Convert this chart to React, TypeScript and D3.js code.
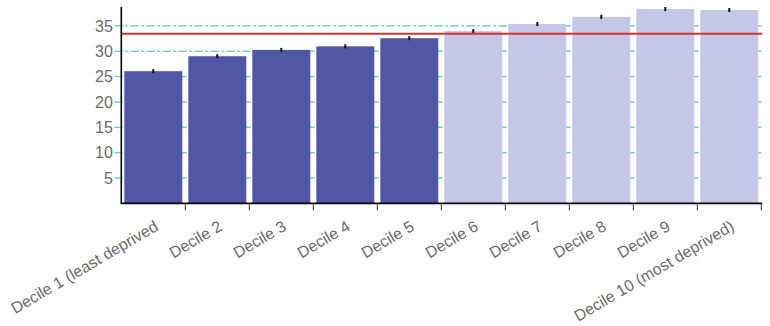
import React from "react";
import * as d3 from "d3";

const categories = [
  "Decile 1 (least deprived",
  "Decile 2",
  "Decile 3",
  "Decile 4",
  "Decile 5",
  "Decile 6",
  "Decile 7",
  "Decile 8",
  "Decile 9",
  "Decile 10 (most deprived)",
];
const values = [26.05, 29.0, 30.25, 30.95, 32.55, 33.95, 35.35, 36.75, 38.3, 38.1];
const errors = [0.4, 0.4, 0.4, 0.4, 0.4, 0.4, 0.4, 0.4, 0.4, 0.4];
const groups = [0, 0, 0, 0, 0, 1, 1, 1, 1, 1];
const referenceValue = 33.45;
const yTicks = [5, 10, 15, 20, 25, 30, 35];

const W = 770;
const H = 326;
const margin = { left: 121.3, right: 8.7, top: 7, bottom: 122.6 };

export default function App() {
  const x = d3
    .scaleBand<string>()
    .domain(categories)
    .range([margin.left, W - margin.right])
    .paddingInner(0.094)
    .paddingOuter(0.047);
  const xb = d3
    .scaleBand<string>()
    .domain(categories)
    .range([margin.left, W - margin.right]);
  const yMax = d3.max(values.map((v, i) => v + errors[i])) as number;
  const y = d3
    .scaleLinear()
    .domain([0, yMax])
    .range([H - margin.bottom, margin.top]);
  const x0 = margin.left;
  const x1 = W - margin.right;
  const y0 = y(0);
  const font = "'Liberation Sans', Arial, sans-serif";
  const colors = ["#5058a6", "#c4c7e7"];

  return (
    <svg
      width={W}
      height={H}
      style={{ position: "absolute", left: 0, top: 0, background: "#fff" }}
    >
      {/* gridlines */}
      {yTicks.map((t) => (
        <line
          key={"g" + t}
          x1={x0 - 7}
          x2={x1}
          y1={y(t)}
          y2={y(t)}
          stroke="#6fd5cb"
          strokeWidth={1.5}
          strokeDasharray="8.5,2.5,2.5,2.5"
        />
      ))}
      {/* bars */}
      {categories.map((c, i) => (
        <rect
          key={"b" + c}
          x={x(c)}
          y={y(values[i])}
          width={x.bandwidth()}
          height={y0 - y(values[i])}
          fill={colors[groups[i]]}
        />
      ))}
      {/* error bars */}
      {categories.map((c, i) => (
        <line
          key={"e" + c}
          x1={(x(c) as number) + x.bandwidth() / 2}
          x2={(x(c) as number) + x.bandwidth() / 2}
          y1={y(values[i] + errors[i])}
          y2={y(values[i] - errors[i])}
          stroke="#111"
          strokeWidth={2}
        />
      ))}
      {/* reference line */}
      <line
        x1={x0}
        x2={x1 + 1}
        y1={y(referenceValue)}
        y2={y(referenceValue)}
        stroke="#cf3434"
        strokeWidth={2}
      />
      {/* y axis */}
      <line x1={x0} x2={x0} y1={margin.top} y2={y0 + 0.5} stroke="#000" strokeWidth={1.6} />
      {yTicks.map((t) => (
        <text
          key={"yt" + t}
          x={x0 - 8.5}
          y={y(t)}
          dy="0.36em"
          textAnchor="end"
          fontFamily={font}
          fontSize={16}
          fill="#6b6b6b"
        >
          {t}
        </text>
      ))}
      {/* x axis */}
      <line x1={x0} x2={x1 + 1} y1={y0} y2={y0} stroke="#000" strokeWidth={1.6} />
      {categories.map((c) => (
        <line
          key={"xt" + c}
          x1={(xb(c) as number) + xb.bandwidth()}
          x2={(xb(c) as number) + xb.bandwidth()}
          y1={y0}
          y2={y0 + 7}
          stroke="#333"
          strokeWidth={1}
        />
      ))}
      {categories.map((c) => {
        const cx = (xb(c) as number) + xb.bandwidth() / 2 + 6;
        const cy = y0 + 26;
        return (
          <text
            key={"xl" + c}
            transform={`translate(${cx},${cy}) rotate(-30.5)`}
            textAnchor="end"
            fontFamily={font}
            fontSize={16}
            fill="#6b6b6b"
          >
            {c}
          </text>
        );
      })}
    </svg>
  );
}
